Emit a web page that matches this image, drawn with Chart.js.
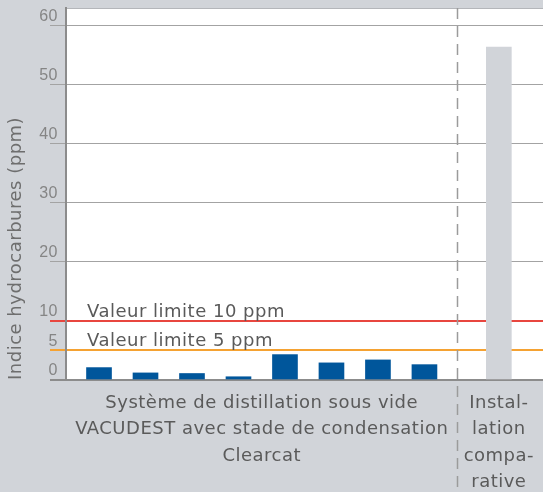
<!DOCTYPE html>
<html>
<head>
<meta charset="utf-8">
<script src="https://cdn.jsdelivr.net/npm/chart.js@4/dist/chart.umd.min.js"></script>
<style>
  html, body { margin: 0; padding: 0; background: #d1d4d9; }
  #wrap { width: 543px; height: 492px; }
</style>
</head>
<body>
<div id="wrap"><canvas id="hcchart" width="543" height="492"></canvas></div>
<script>
// values
const groupLabel = ['Système de distillation sous vide', 'VACUDEST avec stade de condensation', 'Clearcat'];
const compareLabel = ['Instal-', 'lation', 'compa-', 'rative'];
const vacudestValues = [2.1, 1.2, 1.1, 0.55, 4.3, 2.9, 3.4, 2.6];
const compareValues = [56.4];
const yTicks = [0, 5, 10, 20, 30, 40, 50, 60];
const limitValues = [10, 5];
const limitLabels = ['Valeur limite 10 ppm', 'Valeur limite 5 ppm'];
const limitColors = ['#e8463f', '#f5a232'];

// layout of the x axis (in bar slots)
const lastBar = vacudestValues.length - 1;
const compareAt = lastBar + 1.6;
const dividerAt = lastBar + 0.69;

const TEXT = '"DejaVu Sans", sans-serif';

const points = vacudestValues.map((v, i) => ({x: i, y: v}))
  .concat(compareValues.map(v => ({x: compareAt, y: v})));
const colors = vacudestValues.map(() => '#00569b')
  .concat(compareValues.map(() => '#d1d4d9'));

const backdrop = {
  id: 'backdrop',
  beforeLayout(chart) { chart.ctx.letterSpacing = '0.5px'; },
  beforeDraw(chart) {
    const {ctx, chartArea: a} = chart;
    ctx.save();
    ctx.fillStyle = '#ffffff';
    ctx.fillRect(a.left, a.top, a.right - a.left, a.bottom - a.top);
    ctx.strokeStyle = '#b4b6ba';
    ctx.lineWidth = 1;
    ctx.beginPath();
    ctx.moveTo(a.left, a.top + 0.5);
    ctx.lineTo(a.right, a.top + 0.5);
    ctx.stroke();
    ctx.restore();
  }
};

const overlay = {
  id: 'overlay',
  afterDatasetsDraw(chart) {
    const {ctx, chartArea: a, scales: {x, y}} = chart;
    ctx.save();
    ctx.font = '18px ' + TEXT;
    ctx.fillStyle = '#5a5a5a';
    ctx.textBaseline = 'middle';
    ctx.textAlign = 'left';
    limitValues.forEach((v, i) => {
      ctx.fillText(limitLabels[i], a.left + 21, y.getPixelForValue(v) - 9);
    });
    const dx = Math.round(x.getPixelForValue(dividerAt)) + 0.5;
    ctx.strokeStyle = '#9b9b9b';
    ctx.lineWidth = 1.5;
    ctx.setLineDash([11, 7]);
    ctx.beginPath();
    ctx.moveTo(dx, a.top);
    ctx.lineTo(dx, chart.height);
    ctx.stroke();
    ctx.restore();
  }
};

function gridColor(c) {
  const v = c.tick.value;
  const k = limitValues.indexOf(v);
  if (k >= 0) return limitColors[k];
  return v === 0 ? '#8c8c8c' : '#a3a3a3';
}

new Chart(document.getElementById('hcchart'), {
  type: 'bar',
  data: {
    datasets: [{
      data: points,
      backgroundColor: colors,
      barThickness: 25
    }]
  },
  options: {
    responsive: false,
    animation: false,
    events: [],
    layout: { padding: { top: 8, left: 0, right: 0, bottom: 0 } },
    plugins: { legend: { display: false }, tooltip: { enabled: false } },
    scales: {
      x: {
        type: 'linear',
        offset: false,
        min: -0.71,
        max: 9.55,
        afterBuildTicks: s => { s.ticks = [{value: lastBar / 2}, {value: compareAt}]; },
        afterFit: s => { s.height = 112; s.paddingLeft = 0; s.paddingRight = 0; },
        grid: { display: false, drawTicks: false, offset: false },
        border: { display: false },
        ticks: {
          autoSkip: false,
          maxRotation: 0,
          minRotation: 0,
          padding: 10,
          color: '#5a5a5a',
          font: { family: TEXT, size: 18, lineHeight: 1.47 },
          callback: (v, i) => [groupLabel, compareLabel][i]
        }
      },
      y: {
        min: 0,
        max: 63,
        afterBuildTicks: s => { s.ticks = yTicks.map(value => ({value})); },
        afterFit: s => { s.width = 66; },
        grid: {
          color: gridColor,
          lineWidth: c => (c.tick.value === 0 || limitValues.includes(c.tick.value)) ? 2 : 1,
          tickLength: 16
        },
        border: { display: true, color: '#8c8c8c', width: 2 },
        ticks: {
          color: '#858585',
          font: { family: '"Liberation Sans", sans-serif', size: 16 },
          padding: -8,
          labelOffset: -9
        },
        title: {
          display: true,
          text: 'Indice hydrocarbures (ppm)',
          align: 'start',
          color: '#6e6e6e',
          font: { family: TEXT, size: 18 },
          padding: { top: 6, bottom: 0 }
        }
      }
    }
  },
  plugins: [backdrop, overlay]
});
</script>
</body>
</html>
